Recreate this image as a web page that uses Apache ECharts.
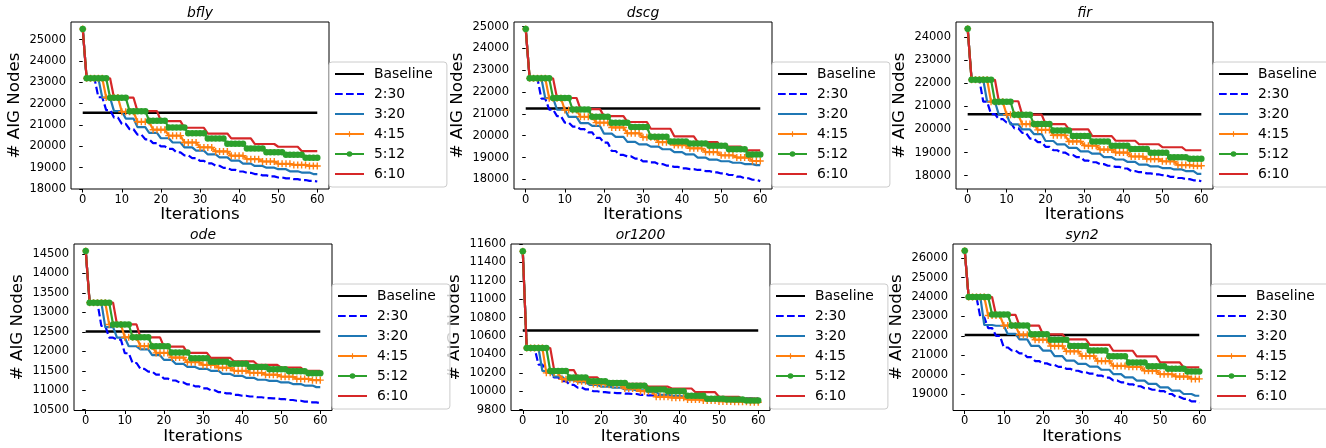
<!DOCTYPE html>
<html>
<head>
<meta charset="utf-8">
<script src="https://cdn.jsdelivr.net/npm/echarts@6/dist/echarts.min.js"></script>
<style>html,body{margin:0;padding:0;background:#fff}#c{width:1326px;height:448px}</style>
</head>
<body>
<div id="c"></div>
<script>
// ---------------- DATA ----------------
const xTicks = [0, 10, 20, 30, 40, 50, 60];
const seriesNames = ['Baseline', '2:30', '3:20', '4:15', '5:12', '6:10'];
const roundLengths = [2, 3, 4, 5, 6]; // iterations per round for 2:30, 3:20, 4:15, 5:12, 6:10
const panelTitles = ['bfly', 'dscg', 'fir', 'ode', 'or1200', 'syn2'];

// bfly
const bflyBaseline = 21580;
const bflyInit = 25500;
const bflyYTicks = [18000, 19000, 20000, 21000, 22000, 23000, 24000, 25000];
const bfly_2_30 = [23190, 22300, 21700, 21350, 21050, 20800, 20550, 20330, 20150, 20000, 19880, 19720, 19580, 19450, 19320, 19200, 19090, 18990, 18900, 18820, 18760, 18700, 18640, 18590, 18540, 18500, 18460, 18420, 18380, 18350];
const bfly_3_20 = [23190, 22280, 21650, 21300, 20900, 20630, 20380, 20180, 19950, 19800, 19620, 19480, 19330, 19190, 19080, 19000, 18930, 18830, 18770, 18700];
const bfly_4_15 = [23190, 22290, 21620, 21150, 20780, 20500, 20180, 19950, 19760, 19560, 19400, 19290, 19180, 19130, 19080];
const bfly_5_12 = [23190, 22280, 21650, 21200, 20880, 20610, 20370, 20120, 19900, 19720, 19600, 19470];
const bfly_6_10 = [23190, 22280, 21650, 21180, 20870, 20600, 20370, 20110, 19980, 19780];

// dscg
const dscgBaseline = 21250;
const dscgInit = 24890;
const dscgYTicks = [18000, 19000, 20000, 21000, 22000, 23000, 24000, 25000];
const dscg_2_30 = [22630, 21700, 21200, 20900, 20600, 20420, 20300, 20150, 19900, 19680, 19300, 19120, 19050, 18950, 18820, 18780, 18700, 18630, 18570, 18500, 18470, 18430, 18380, 18320, 18270, 18200, 18120, 18050, 17980, 17920];
const dscg_3_20 = [22630, 21720, 21200, 20860, 20580, 20450, 20100, 19950, 19720, 19600, 19500, 19380, 19250, 19140, 19000, 18900, 18830, 18760, 18700, 18650];
const dscg_4_15 = [22630, 21720, 21180, 20870, 20600, 20380, 20110, 19930, 19700, 19570, 19420, 19250, 19100, 19000, 18840];
const dscg_5_12 = [22630, 21730, 21200, 20870, 20600, 20400, 19950, 19730, 19640, 19540, 19380, 19140];
const dscg_6_10 = [22630, 21730, 21220, 20900, 20630, 20320, 19970, 19710, 19500, 19330];

// fir
const firBaseline = 20660;
const firInit = 24360;
const firYTicks = [18000, 19000, 20000, 21000, 22000, 23000, 24000];
const fir_2_30 = [22150, 21200, 20660, 20450, 20300, 20050, 19850, 19600, 19450, 19250, 19100, 19000, 18900, 18800, 18650, 18580, 18500, 18430, 18380, 18310, 18200, 18150, 18100, 18060, 18020, 17950, 17900, 17850, 17800, 17760];
const fir_3_20 = [22150, 21200, 20640, 20220, 20000, 19800, 19500, 19350, 19200, 19050, 18950, 18800, 18700, 18600, 18480, 18400, 18330, 18270, 18200, 18080];
const fir_4_15 = [22150, 21200, 20640, 20230, 19980, 19750, 19480, 19300, 19130, 19000, 18830, 18720, 18620, 18460, 18430];
const fir_5_12 = [22150, 21200, 20640, 20230, 19950, 19720, 19480, 19300, 19150, 18990, 18800, 18730];
const fir_6_10 = [22150, 21220, 20640, 20230, 20000, 19710, 19510, 19360, 19230, 19100];

// ode
const odeBaseline = 12510;
const odeInit = 14580;
const odeYTicks = [10500, 11000, 11500, 12000, 12500, 13000, 13500, 14000, 14500];
const ode_2_30 = [13250, 12650, 12350, 12300, 11950, 11700, 11550, 11480, 11400, 11300, 11250, 11200, 11150, 11100, 11050, 11000, 10950, 10920, 10880, 10860, 10840, 10820, 10800, 10790, 10770, 10750, 10730, 10710, 10690, 10670];
const ode_3_20 = [13250, 12620, 12350, 12130, 12050, 11900, 11780, 11680, 11600, 11550, 11500, 11420, 11370, 11320, 11270, 11240, 11200, 11160, 11120, 11080];
const ode_4_15 = [13250, 12690, 12360, 12130, 11960, 11840, 11720, 11650, 11580, 11500, 11450, 11400, 11350, 11290, 11260];
const ode_5_12 = [13250, 12690, 12360, 12130, 11970, 11820, 11730, 11680, 11600, 11540, 11490, 11440];
const ode_6_10 = [13250, 12690, 12360, 12120, 11960, 11830, 11740, 11650, 11580, 11500];

// or1200
const or1200Baseline = 10660;
const or1200Init = 11520;
const or1200YTicks = [9800, 10000, 10200, 10400, 10600, 10800, 11000, 11200, 11400, 11600];
const or1200_2_30 = [10470, 10290, 10200, 10150, 10110, 10070, 10040, 10020, 10000, 9990, 9985, 9980, 9975, 9970, 9960, 9955, 9950, 9950, 9945, 9940, 9935, 9930, 9930, 9925, 9925, 9920, 9920, 9920, 9920, 9920];
const or1200_3_20 = [10470, 10220, 10160, 10120, 10100, 10070, 10050, 10040, 10020, 10010, 9990, 9960, 9950, 9940, 9930, 9920, 9915, 9910, 9905, 9900];
const or1200_4_15 = [10470, 10200, 10130, 10110, 10080, 10070, 10030, 10000, 9940, 9930, 9910, 9900, 9890, 9885, 9880];
const or1200_5_12 = [10470, 10220, 10150, 10110, 10090, 10060, 10020, 10000, 9950, 9920, 9910, 9900];
const or1200_6_10 = [10470, 10230, 10150, 10110, 10080, 10050, 10030, 9990, 9940, 9920];

// syn2
const syn2Baseline = 22040;
const syn2Init = 26390;
const syn2YTicks = [19000, 20000, 21000, 22000, 23000, 24000, 25000, 26000];
const syn2_2_30 = [24000, 22950, 22400, 22000, 21400, 21250, 21100, 20900, 20700, 20580, 20500, 20400, 20300, 20200, 20130, 20050, 19950, 19850, 19700, 19600, 19500, 19400, 19300, 19220, 19150, 19000, 18850, 18750, 18620, 18540];
const syn2_3_20 = [24000, 22560, 22520, 22100, 21820, 21480, 21240, 20950, 20720, 20550, 20410, 20250, 20030, 19860, 19690, 19520, 19340, 19170, 19000, 18910];
const syn2_4_15 = [24000, 23050, 22530, 22060, 21800, 21480, 21200, 20960, 20700, 20450, 20400, 20200, 20020, 19900, 19780];
const syn2_5_12 = [24000, 23100, 22530, 22080, 21800, 21480, 21250, 20950, 20620, 20430, 20300, 20160];
const syn2_6_10 = [24000, 23080, 22530, 22080, 21820, 21530, 21230, 20940, 20630, 20370];

// ---------------- LAYOUT / STYLE ----------------
const panelData = [
  {base: bflyBaseline, init: bflyInit, ticks: bflyYTicks, runs: [bfly_2_30, bfly_3_20, bfly_4_15, bfly_5_12, bfly_6_10]},
  {base: dscgBaseline, init: dscgInit, ticks: dscgYTicks, runs: [dscg_2_30, dscg_3_20, dscg_4_15, dscg_5_12, dscg_6_10]},
  {base: firBaseline, init: firInit, ticks: firYTicks, runs: [fir_2_30, fir_3_20, fir_4_15, fir_5_12, fir_6_10]},
  {base: odeBaseline, init: odeInit, ticks: odeYTicks, runs: [ode_2_30, ode_3_20, ode_4_15, ode_5_12, ode_6_10]},
  {base: or1200Baseline, init: or1200Init, ticks: or1200YTicks, runs: [or1200_2_30, or1200_3_20, or1200_4_15, or1200_5_12, or1200_6_10]},
  {base: syn2Baseline, init: syn2Init, ticks: syn2YTicks, runs: [syn2_2_30, syn2_3_20, syn2_4_15, syn2_5_12, syn2_6_10]}
];
const layouts = [
  {left: 71, right: 329, top: 22, bottom: 189, ymin: 18000, ymax: 25828},
  {left: 514, right: 772, top: 22, bottom: 189, ymin: 17557, ymax: 25214},
  {left: 956, right: 1213, top: 22, bottom: 189, ymin: 17424, ymax: 24647},
  {left: 74, right: 332, top: 244, bottom: 410.5, ymin: 10480, ymax: 14757},
  {left: 511, right: 770, top: 244, bottom: 410.5, ymin: 9791, ymax: 11600},
  {left: 953, right: 1211, top: 244, bottom: 410.5, ymin: 18149, ymax: 26738}
];
const FONT = 'DejaVu Sans';
const PLUS = 'path://M4,0H6V4H10V6H6V10H4V6H0V4H4Z';
const LW = 2.2;
const styles = [
  {color: '#000000', type: 'solid', symbol: 'none', size: 0},
  {color: '#0000ff', type: [7.7, 3.3], symbol: 'none', size: 0},
  {color: '#1f77b4', type: 'solid', symbol: 'none', size: 0},
  {color: '#ff7f0e', type: 'solid', symbol: PLUS, size: 7},
  {color: '#2ca02c', type: 'solid', symbol: 'circle', size: 6.5},
  {color: '#d62728', type: 'solid', symbol: 'none', size: 0}
];

function expandRounds(init, k, rounds) {
  const out = [[0, init]];
  for (let x = 1; x <= 60; x++) {
    const j = x === 1 ? 0 : Math.floor((x - 2) / k);
    out.push([x, rounds[j]]);
  }
  return out;
}

const grid = [], xAxis = [], yAxis = [], series = [], legend = [], graphic = [];
layouts.forEach((L, i) => {
  const P = panelData[i];
  grid.push({left: L.left, top: L.top, width: L.right - L.left, height: L.bottom - L.top,
    show: true, borderColor: '#000', borderWidth: 1, backgroundColor: 'rgba(0,0,0,0)'});
  xAxis.push({type: 'value', gridIndex: i, min: -3, max: 63,
    axisLine: {show: false}, splitLine: {show: false},
    axisTick: {show: true, length: 3.5, lineStyle: {color: '#000', width: 1}, customValues: xTicks},
    axisLabel: {show: true, customValues: xTicks, margin: 5, color: '#000', fontSize: 11.5, fontFamily: FONT,
      formatter: v => String(v)}});
  yAxis.push({type: 'value', gridIndex: i, min: L.ymin, max: L.ymax,
    axisLine: {show: false}, splitLine: {show: false},
    axisTick: {show: true, length: 3.5, lineStyle: {color: '#000', width: 1}, customValues: P.ticks},
    axisLabel: {show: true, customValues: P.ticks, margin: 5, color: '#000', fontSize: 11.5, fontFamily: FONT,
      formatter: v => String(v)}});
  // baseline
  series.push({type: 'line', name: seriesNames[0], xAxisIndex: i, yAxisIndex: i, silent: true,
    data: [[0, P.base], [60, P.base]], symbol: 'none',
    lineStyle: {color: styles[0].color, width: 2.5}, itemStyle: {color: styles[0].color}});
  P.runs.forEach((r, s) => {
    const st = styles[s + 1];
    series.push({type: 'line', name: seriesNames[s + 1], xAxisIndex: i, yAxisIndex: i, silent: true,
      data: expandRounds(P.init, roundLengths[s], r),
      symbol: st.symbol, symbolSize: st.size, showSymbol: st.symbol !== 'none',
      lineStyle: {color: st.color, width: LW, type: st.type},
      itemStyle: {color: st.color, borderWidth: 0}});
  });
  legend.push({orient: 'vertical', left: L.right, top: L.top + 40, selectedMode: false,
    itemWidth: 29, itemHeight: 7, itemGap: 6, padding: [5, 14, 6, 5],
    backgroundColor: 'rgba(255,255,255,0.8)', borderColor: '#cccccc', borderWidth: 1, borderRadius: 3,
    textStyle: {fontSize: 13.9, fontFamily: FONT, color: '#000', padding: [0, 0, 0, 5]},
    data: seriesNames.map((n, s) => (styles[s].symbol === 'none' ? {name: n, itemStyle: {opacity: 0}} : {name: n}))});
  const cx = (L.left + L.right) / 2;
  graphic.push({type: 'text', x: cx, y: L.top - 9, silent: true,
    style: {text: panelTitles[i], fontSize: 13.9, fontFamily: FONT, fontStyle: 'italic', fill: '#000', align: 'center', verticalAlign: 'middle'}});
  graphic.push({type: 'text', x: cx, y: L.bottom + 26, silent: true,
    style: {text: 'Iterations', fontSize: 16.7, fontFamily: FONT, fill: '#000', align: 'center', verticalAlign: 'middle'}});
  graphic.push({type: 'text', x: L.left - 56, y: (L.top + L.bottom) / 2, rotation: Math.PI / 2, silent: true,
    style: {text: '# AIG Nodes', fontSize: 16.7, fontFamily: FONT, fill: '#000', align: 'center', verticalAlign: 'middle'}});
});

const chart = echarts.init(document.getElementById('c'), null, {renderer: 'canvas', width: 1326, height: 448});
chart.setOption({animation: false, backgroundColor: '#fff', grid, xAxis, yAxis, series, legend, graphic});
</script>
</body>
</html>
